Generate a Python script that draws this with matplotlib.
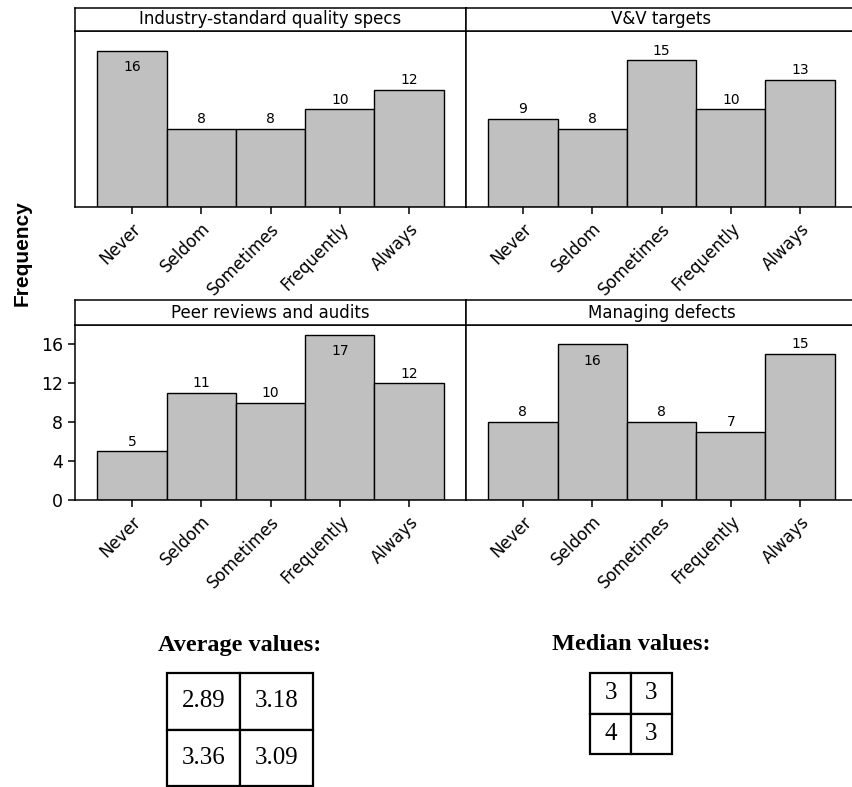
import numpy as np
import matplotlib.pyplot as plt

categories = ['Never', 'Seldom', 'Sometimes', 'Frequently', 'Always']

titles = ['Industry-standard quality specs', 'V&V targets',
          'Peer reviews and audits', 'Managing defects']
industry_specs = [16, 8, 8, 10, 12]
vv_targets = [9, 8, 15, 10, 13]
peer_reviews = [5, 11, 10, 17, 12]
managing_defects = [8, 16, 8, 7, 15]
series = [industry_specs, vv_targets, peer_reviews, managing_defects]

y_ticks = [0, 4, 8, 12, 16]

average_values = [['2.89', '3.18'], ['3.36', '3.09']]
median_values = [['3', '3'], ['4', '3']]

W, H = 852, 787
fig = plt.figure(figsize=(W / 100, H / 100), dpi=100)


def px(x0, y0, w, h):
    # pixel box (top-left origin) -> figure fraction
    return [x0 / W, 1 - (y0 + h) / H, w / W, h / H]


# panel boxes: (x0, strip top, strip height, plot top, plot bottom)
panels = [
    (75, 8, 23, 31, 207),
    (466, 8, 23, 31, 207),
    (75, 300, 25, 325, 500),
    (466, 300, 25, 325, 500),
]
panel_w = 391
bar_color = '#c0c0c0'
lw = 1.1

for i, (x0, st, sh, pt, pb) in enumerate(panels):
    vals = series[i]
    ax = fig.add_axes(px(x0, pt, panel_w, pb - pt))
    x = np.arange(len(categories))
    ax.bar(x, vals, width=1.0, color=bar_color, edgecolor='black', linewidth=1.0)
    ax.set_xlim(-0.82, 4.82)
    ax.set_ylim(0, 18)
    for s in ax.spines.values():
        s.set_linewidth(lw)
    ax.set_xticks(x)
    ax.set_xticklabels(categories, rotation=45, ha='right', rotation_mode='anchor',
                       fontsize=12)
    ax.tick_params(axis='x', length=5, width=1.1, pad=4)
    if i == 2:
        ax.set_yticks(y_ticks)
        ax.tick_params(axis='y', length=5, width=1.1, labelsize=12.5, pad=3.5)
    else:
        ax.set_yticks([])
    for xi, v in zip(x, vals):
        if v >= 16:
            ax.annotate(str(v), (xi, v), xytext=(0, -12), textcoords='offset points',
                        ha='center', va='center', fontsize=10)
        else:
            ax.annotate(str(v), (xi, v), xytext=(0, 7), textcoords='offset points',
                        ha='center', va='center', fontsize=10)

    sax = fig.add_axes(px(x0, st, panel_w, sh))
    sax.set_xticks([])
    sax.set_yticks([])
    for s in sax.spines.values():
        s.set_linewidth(lw)
    sax.text(0.5, 0.5, titles[i], ha='center', va='center', fontsize=12,
             transform=sax.transAxes)

fig.text(22 / W, 1 - 253 / H, 'Frequency', rotation=90, ha='center', va='center',
         fontsize=15, fontweight='bold', family='Liberation Sans')

# summary tables
fig.text(240 / W, 1 - 645 / H, 'Average values:', ha='center', va='center',
         fontsize=17.5, fontweight='bold', family='Liberation Serif')
fig.text(631 / W, 1 - 645 / H, 'Median values:', ha='center', va='center',
         fontsize=17.5, fontweight='bold', family='Liberation Serif')


def draw_table(cells, box):
    tax = fig.add_axes(px(*box))
    tax.axis('off')
    tbl = tax.table(cellText=cells, cellLoc='center', bbox=[0, 0, 1, 1])
    tbl.auto_set_font_size(False)
    for cell in tbl.get_celld().values():
        cell.set_linewidth(1.6)
        cell.get_text().set_fontsize(18)
        cell.get_text().set_family('Liberation Serif')


draw_table(average_values, (167, 673, 146, 113))
draw_table(median_values, (590, 673, 82, 81))

fig.savefig('out.png', dpi=100)
